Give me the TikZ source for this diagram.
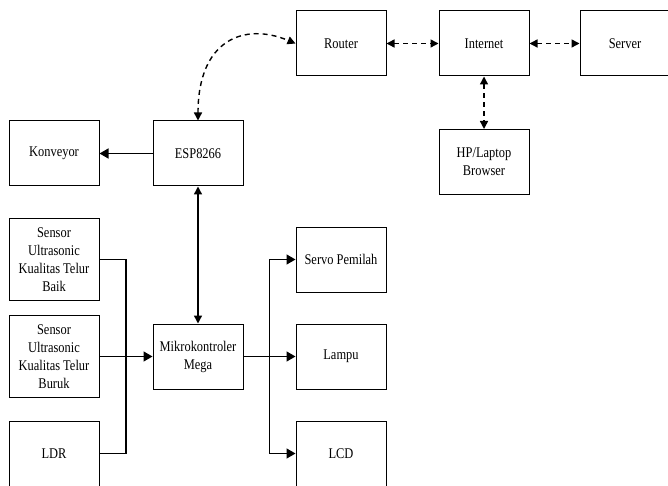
\documentclass[tikz,border=0pt]{standalone}
\usepackage{fontspec}
\setmainfont{Liberation Serif}[FakeStretch=0.84]
\usetikzlibrary{arrows.meta}

\begin{document}
\begin{tikzpicture}[x=1pt,y=-1pt]
\tikzset{
  blok/.style={draw,line width=1pt,minimum width=90pt,minimum height=65pt,inner sep=1pt,
    align=center,font=\fontsize{14.8}{18}\selectfont},
  tinggi/.style={minimum height=82pt},
  garis/.style={line width=1.4pt},
  panah/.style={garis,-{Triangle[length=9pt,width=10pt]}},
  duapanah/.style={garis,{Triangle[length=8pt,width=8pt]}-{Triangle[length=8pt,width=8pt]}},
  putus/.style={duapanah,dash pattern=on 5pt off 4pt}
}
\useasboundingbox (0,0) rectangle (668,486);

% jaringan
\node[blok] (router) at (341,43.5) {Router};
\node[blok] (internet) at (484,43.5) {Internet};
\node[blok] (server) at (625,43.5) {Server};
\node[blok] (hp) at (484,162) {HP/Laptop\\Browser};

% kontrol
\node[blok] (konveyor) at (54,153.5) {Konveyor};
\node[blok] (esp) at (198,153.5) {ESP8266};
\node[blok] (mikro) at (198,356.5) {Mikrokontroler\\Mega};

% input
\node[blok,tinggi] (baik) at (54,259.5) {Sensor\\Ultrasonic\\Kualitas Telur\\Baik};
\node[blok,tinggi] (buruk) at (54,356.5) {Sensor\\Ultrasonic\\Kualitas Telur\\Buruk};
\node[blok] (ldr) at (54,453.5) {LDR};

% output
\node[blok] (servo) at (341,259.5) {Servo Pemilah};
\node[blok] (lampu) at (341,356.5) {Lampu};
\node[blok] (lcd) at (341,453.5) {LCD};

\coordinate (kiri) at (126,356.5);
\coordinate (kanan) at (269.5,356.5);

% koneksi
\draw[garis] (baik.east) -| (kiri);
\draw[garis] (ldr.east) -| (kiri);
\draw[panah] (buruk.east) -- (mikro.west);
\draw[panah] (mikro.east) -- (lampu.west);
\draw[panah] (kanan) |- (servo.west);
\draw[panah] (kanan) |- (lcd.west);
\draw[duapanah] (esp.south) -- (mikro.north);
\draw[panah] (esp.west) -- (konveyor.east);

% wifi
\draw[putus] (esp.north) .. controls +(0,-81) and +(-51,-21.5) .. (router.west);
\draw[putus] (router.east) -- (internet.west);
\draw[putus] (internet.east) -- (server.west);
\draw[putus] (internet.south) -- (hp.north);
\end{tikzpicture}
\end{document}
